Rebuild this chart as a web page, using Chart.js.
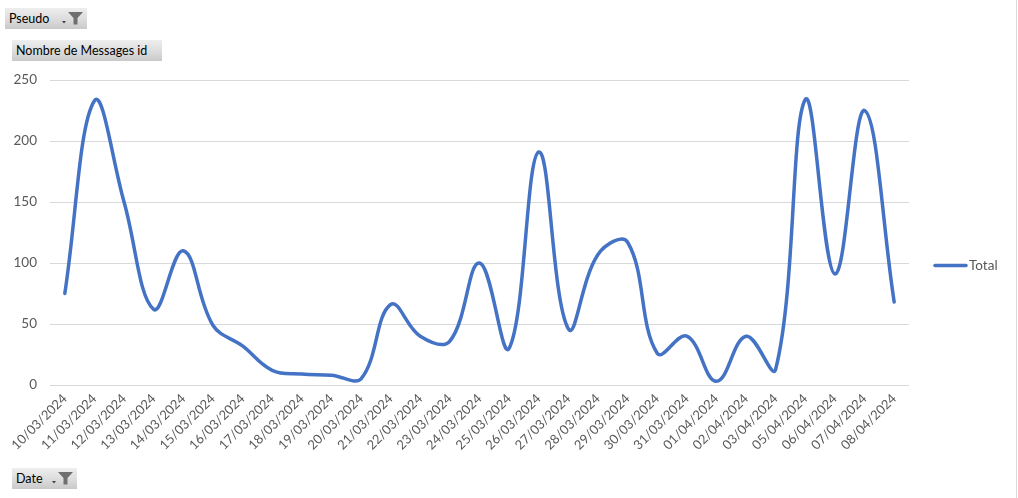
<!DOCTYPE html>
<html>
<head>
<meta charset="utf-8">
<script src="https://cdn.jsdelivr.net/npm/chart.js@4"></script>
<style>
  html, body { margin: 0; padding: 0; background: #fff; }
  #wrap { position: relative; width: 1018px; height: 498px; overflow: hidden; }
  #c { position: absolute; left: 0; top: 0; }
  .btn { position: absolute; height: 21px; background: linear-gradient(to bottom, #eeeeee 0%, #dcdcdc 55%, #c9c9c9 100%);
         font-family: Lato, "Liberation Sans", sans-serif; font-size: 12.5px; color: #000; line-height: 21px;
         box-sizing: border-box; padding-left: 4px; white-space: nowrap; }
  .btn svg { position: absolute; top: 3px; }
  #edge { position: absolute; left: 1016px; top: 0; width: 1px; height: 498px; background: #d9d9d9; }
</style>
</head>
<body>
<div id="wrap">
  <canvas id="c" width="1018" height="498"></canvas>
  <div class="btn" style="left:5px;top:8px;width:82px;">Pseudo
    <svg style="left:56px" width="24" height="15" viewBox="0 0 24 15">
      <path d="M1 10 L5 10 L3 12.5 Z" fill="#404040"/>
      <path d="M7 1 L22 1 L16.5 7 L16.5 13.5 L12.5 13.5 L12.5 7 Z" fill="#6f6f6f"/>
    </svg>
  </div>
  <div class="btn" style="left:12px;top:40px;width:150px;">Nombre de Messages id</div>
  <div class="btn" style="left:12px;top:468px;width:65px;">Date
    <svg style="left:39px" width="24" height="15" viewBox="0 0 24 15">
      <path d="M1 10 L5 10 L3 12.5 Z" fill="#404040"/>
      <path d="M7 1 L22 1 L16.5 7 L16.5 13.5 L12.5 13.5 L12.5 7 Z" fill="#6f6f6f"/>
    </svg>
  </div>
  <div id="edge"></div>
</div>
<script>
const categories = [
  "10/03/2024","11/03/2024","12/03/2024","13/03/2024","14/03/2024","15/03/2024",
  "16/03/2024","17/03/2024","18/03/2024","19/03/2024","20/03/2024","21/03/2024",
  "22/03/2024","23/03/2024","24/03/2024","25/03/2024","26/03/2024","27/03/2024",
  "28/03/2024","29/03/2024","30/03/2024","31/03/2024","01/04/2024","02/04/2024",
  "03/04/2024","05/04/2024","06/04/2024","07/04/2024","08/04/2024"
];
const totalValues = [
  75, 233, 150, 62, 110, 49,
  32, 12, 9, 8, 5, 66,
  40, 36, 100, 30, 191, 46,
  107, 117, 26, 40, 3, 40,
  13, 234, 91, 225, 68
];
const seriesName = "Total";
const yTicks = [0, 50, 100, 150, 200, 250];

const textColor = "#595959";
const lineColor = "#4472C4";
const fontFamily = "Lato, 'Liberation Sans', sans-serif";

const legendPlugin = {
  id: "sideLegend",
  afterDraw(chart) {
    const ctx = chart.ctx;
    const ds = chart.data.datasets[0];
    const area = chart.chartArea;
    const y = (area.top + area.bottom) / 2 + 33;
    const x0 = area.right + 24;
    ctx.save();
    ctx.strokeStyle = ds.borderColor;
    ctx.lineWidth = ds.borderWidth;
    ctx.lineCap = "round";
    ctx.beginPath();
    ctx.moveTo(x0 + 2, y);
    ctx.lineTo(x0 + 33, y);
    ctx.stroke();
    ctx.fillStyle = textColor;
    ctx.font = "13.5px " + fontFamily;
    ctx.textBaseline = "middle";
    ctx.textAlign = "left";
    ctx.fillText(ds.label, x0 + 36, y);
    ctx.restore();
  }
};

new Chart(document.getElementById("c"), {
  type: "line",
  data: {
    labels: categories,
    datasets: [{
      label: seriesName,
      data: totalValues,
      borderColor: lineColor,
      backgroundColor: lineColor,
      borderWidth: 3.5,
      tension: 0.4,
      pointRadius: 0,
      pointHoverRadius: 0,
      fill: false,
      borderCapStyle: "round",
      borderJoinStyle: "round"
    }]
  },
  options: {
    responsive: false,
    animation: false,
    devicePixelRatio: 1,
    layout: { padding: { left: 0, top: 80, right: 109, bottom: 0 } },
    plugins: {
      legend: { display: false },
      tooltip: { enabled: false },
      title: { display: false }
    },
    scales: {
      x: {
        type: "category",
        offset: true,
        grid: { display: false, drawTicks: false },
        border: { display: false },
        ticks: {
          color: textColor,
          font: { family: fontFamily, size: 13 },
          minRotation: 45,
          maxRotation: 45,
          autoSkip: false,
          padding: 6
        },
        afterFit(scale) { scale.height = 113; }
      },
      y: {
        min: 0,
        max: 250,
        afterBuildTicks(scale) { scale.ticks = yTicks.map(v => ({ value: v })); },
        grid: { color: "#d9d9d9", lineWidth: 1, drawTicks: false },
        border: { display: false },
        ticks: {
          color: textColor,
          font: { family: fontFamily, size: 13.5 },
          padding: 13
        },
        afterFit(scale) { scale.width = 50; }
      }
    }
  },
  plugins: [legendPlugin]
});
</script>
</body>
</html>
